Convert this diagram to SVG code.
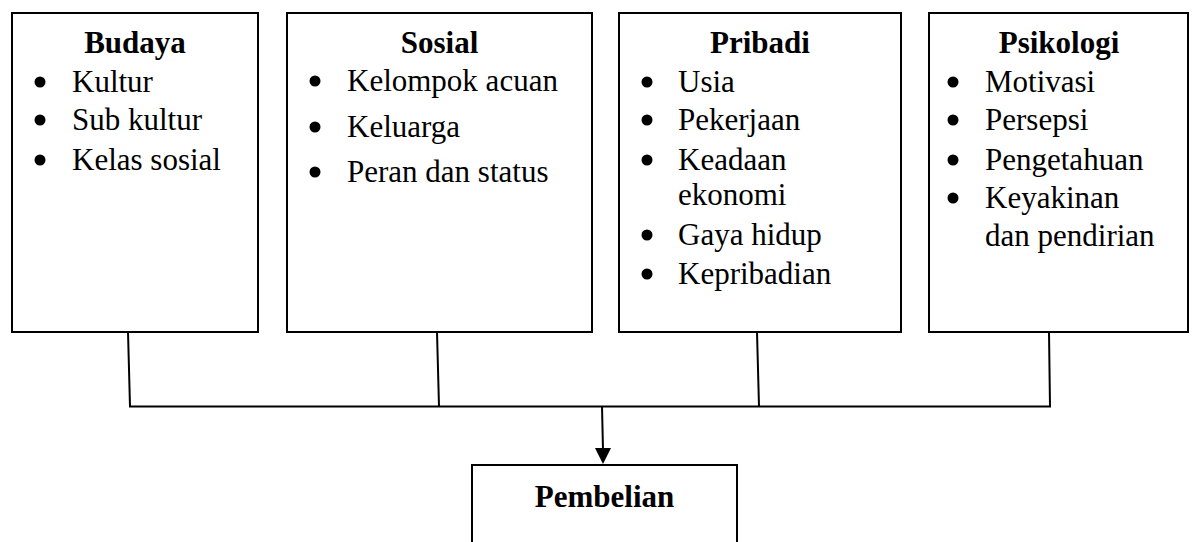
<svg xmlns="http://www.w3.org/2000/svg" width="1194" height="542" viewBox="0 0 1194 542">
<defs>
<style>
.box{fill:#fff;stroke:#000;stroke-width:2}
.t{font-family:"Liberation Serif","Times New Roman",serif;font-size:31px;fill:#000}
.h{font-weight:bold;text-anchor:middle}
.b{fill:#000}
.c{stroke:#000;stroke-width:2;fill:none}
</style>
</defs>
<rect width="1194" height="542" fill="#fff"/>
<g id="budaya">
<rect class="box" x="12" y="13" width="246" height="319"/>
<text class="t h" x="135" y="53">Budaya</text>
<circle class="b" cx="40" cy="82" r="5.5"/><text class="t" x="72" y="92">Kultur</text>
<circle class="b" cx="40" cy="120" r="5.5"/><text class="t" x="72" y="130">Sub kultur</text>
<circle class="b" cx="40" cy="160" r="5.5"/><text class="t" x="72" y="170">Kelas sosial</text>
</g>
<g id="sosial">
<rect class="box" x="287" y="13" width="305" height="319"/>
<text class="t h" x="439.5" y="53">Sosial</text>
<circle class="b" cx="315" cy="81" r="5.5"/><text class="t" x="347" y="91">Kelompok acuan</text>
<circle class="b" cx="315" cy="127" r="5.5"/><text class="t" x="347" y="137">Keluarga</text>
<circle class="b" cx="315" cy="172" r="5.5"/><text class="t" x="347" y="182">Peran dan status</text>
</g>
<g id="pribadi">
<rect class="box" x="619" y="13" width="282" height="319"/>
<text class="t h" x="760" y="53">Pribadi</text>
<circle class="b" cx="647" cy="82" r="5.5"/><text class="t" x="678" y="92">Usia</text>
<circle class="b" cx="647" cy="120" r="5.5"/><text class="t" x="678" y="130">Pekerjaan</text>
<circle class="b" cx="647" cy="160" r="5.5"/><text class="t" x="678" y="170">Keadaan</text>
<text class="t" x="678" y="205">ekonomi</text>
<circle class="b" cx="647" cy="235" r="5.5"/><text class="t" x="678" y="245">Gaya hidup</text>
<circle class="b" cx="647" cy="274" r="5.5"/><text class="t" x="678" y="284">Kepribadian</text>
</g>
<g id="psikologi">
<rect class="box" x="929" y="13" width="259" height="319"/>
<text class="t h" x="1059" y="53">Psikologi</text>
<circle class="b" cx="953" cy="82" r="5.5"/><text class="t" x="985" y="92">Motivasi</text>
<circle class="b" cx="953" cy="120" r="5.5"/><text class="t" x="985" y="130">Persepsi</text>
<circle class="b" cx="953" cy="160" r="5.5"/><text class="t" x="985" y="170">Pengetahuan</text>
<circle class="b" cx="953" cy="198" r="5.5"/><text class="t" x="985" y="208">Keyakinan</text>
<text class="t" x="985" y="246">dan pendirian</text>
</g>
<g id="pembelian">
<path class="box" d="M472,550 V465 H737 V550"/>
<text class="t h" x="604.5" y="507">Pembelian</text>
</g>
<g id="connectors">
<path class="c" d="M128,332 L130,406.5 M437,332 L439,406.5 M757,332 L759,406.5 M1049,332 L1050,406.5 M129,406.5 H1051"/>
<path class="c" d="M602,406 L603,450"/>
<polygon class="b" points="595,448 611,448 603,464"/>
</g>
</svg>
